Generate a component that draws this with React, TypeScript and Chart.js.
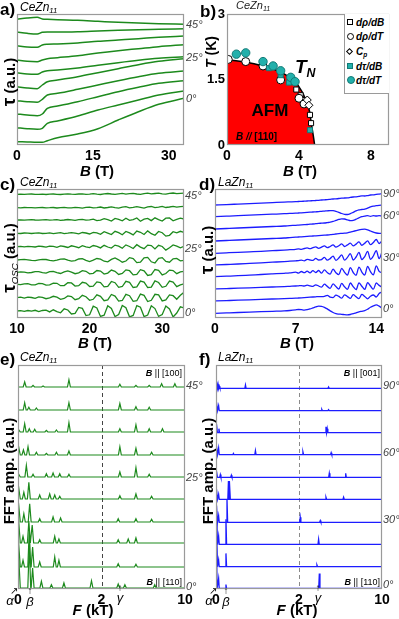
import React, { useEffect, useRef } from "react";
import { Chart, registerables } from "chart.js";

Chart.register(...registerables);

const FONT = "'Liberation Sans', Arial, Helvetica, sans-serif";
Chart.defaults.font.family = FONT;

const GREEN = "#1d8a1d";
const BLUE = "#1c1cff";
const RED = "#ff0000";
const TEAL = "#22b0ab";
const FRAME = "#9a9a9a";

// ---------- a) CeZn11 torque (a.u.) vs B (T) ----------
const fieldA = [0, 2, 4, 5, 6, 8, 12, 16, 20, 24, 28, 33];
const torqueCe45 = [125.7, 127, 127.7, 126, 125.7, 125.3, 124.7, 123.7, 122.7, 122, 121.3, 120.7];
const torqueCe40 = [113, 111.7, 111, 112.7, 113, 113, 113.3, 114, 114.7, 115.3, 115.7, 116.3];
const torqueCe35 = [99.3, 98, 97.7, 100, 100.7, 101, 102, 103.7, 105, 106.3, 107.7, 109];
const torqueCe30 = [85, 83.7, 83.3, 85, 86.3, 87.3, 89.3, 92, 94.3, 96.3, 98.3, 100.3];
const torqueCe25 = [72.3, 71, 70.7, 73, 74.3, 75, 77, 79.7, 82.3, 84.7, 86.7, 88.3];
const torqueCe20 = [58.3, 57, 56.3, 60, 63.3, 65, 68.3, 72.3, 76.3, 80.3, 83.7, 86.3];
const torqueCe15 = [44.3, 43.3, 42.7, 45.7, 50, 51.7, 55.7, 60, 64.3, 68.3, 71.7, 74];
const torqueCe10 = [31, 30, 29.3, 31, 36.7, 39, 43.3, 48.3, 53.3, 57.7, 61.7, 64.3];
const torqueCe5 = [17.3, 16.3, 15.7, 16.7, 21.7, 24, 29, 35, 40, 45, 50, 54];
const torqueCe0 = [3.3, 3, 2.7, 2.7, 4.3, 7.3, 11, 16.3, 25, 33.3, 40.7, 46.7];

// ---------- b) phase diagram ----------
const boundaryField = [0, 0.5, 1, 1.5, 2, 2.5, 3, 3.5, 3.9, 4.2, 4.45, 4.6, 4.7, 4.8, 4.87];
const boundaryTemp = [1.95, 1.93, 1.9, 1.86, 1.81, 1.75, 1.67, 1.55, 1.4, 1.2, 0.97, 0.75, 0.45, 0.2, 0];
const dRhoDB = [[3.85, 1.27], [4.09, 1.14], [4.3, 1.03], [4.61, 0.69], [4.67, 0.5]];
const dRhoDT = [[0.07, 1.96], [1.04, 1.91], [2.0, 1.81], [2.98, 1.49], [4.0, 1.07], [4.28, 0.94]];
const heatCp = [[4.46, 1.03], [4.55, 0.91]];
const dTauDB = [[2.33, 1.76], [2.98, 1.6], [3.44, 1.43], [4.61, 0.34]];
const dTauDT = [[0.52, 2.08], [1.04, 2.11], [2.0, 1.91], [2.56, 1.81], [2.98, 1.7], [3.54, 1.55], [3.78, 1.45]];

// ---------- c) CeZn11 oscillatory torque ----------
const oscField = [10, 10.5, 11, 11.5, 12, 12.5, 13, 13.5, 14, 14.5, 15, 15.5, 16, 16.5, 17, 17.5, 18, 18.5, 19, 19.5,
  20, 20.5, 21, 21.5, 22, 22.5, 23, 23.5, 24, 24.5, 25, 25.5, 26, 26.5, 27, 27.5, 28, 28.5, 29, 29.5,
  30, 30.5, 31, 31.5, 32, 32.5, 33];
const oscCe45 = [0, 0.2, -0.1, 0.1, 0.3, -0.1, 0, 0.2, -0.2, 0.1, 0.3, 0, -0.2, 0.2, 0.4, 0.1, -0.1, 0.3, 0.5, 0,
  0.2, 0.6, 0.1, -0.2, 0.4, 0.8, 0.3, 0, 0.5, 0.9, 0.2, 0.6, 1.0, 0.3, -0.1, 0.7, 1.1, 0.4, 0.8, 1.2,
  0.5, 0.2, 0.9, 1.3, 0.6, 1.0, 1.2];
const oscCe40 = [0, -0.1, 0.2, 0, 0.1, -0.2, 0.1, 0.2, -0.1, 0, 0.2, -0.3, 0.1, 0.3, -0.2, -0.1, 0.4, 0.1, -0.4, 0.3,
  0.5, -0.2, 0.1, 0.7, -0.3, 0.2, 0.9, 0.1, -0.5, 0.6, 1.0, -0.2, 0.3, 1.1, 0.4, -0.4, 0.8, 1.2, 0, 0.5,
  1.3, 0.2, 0.7, 1.4, 0.5, 1.0, 1.3];
const oscCe35 = [0, 0.2, -0.2, 0.1, 0.3, 0, -0.2, 0.2, 0.3, -0.1, 0.1, 0.4, -0.3, 0, 0.5, 0.2, -0.4, 0.3, 0.6, -0.2,
  0.1, 0.9, -0.6, -0.2, 1.4, 0.3, -1.0, 1.6, 0.6, -0.8, 1.8, -0.4, 0.4, 2.0, -1.2, 0.8, 1.6, -0.6, 2.2, 0.4,
  -1.0, 1.8, 2.0, -0.8, 0.6, 1.9, 1.0];
const oscCe30 = [0, -0.2, 0.3, 0.1, -0.2, 0.2, 0.4, -0.2, 0, 0.4, -0.3, 0.2, 0.6, -0.4, 0.1, 0.7, 0.2, -0.6, 0.8, 0.3,
  -0.7, 1.0, 0.4, -1.0, 1.6, 0.2, -1.2, 2.0, 0.6, -1.4, 1.8, 0.4, -1.6, 2.2, 1.0, -1.2, 2.4, -0.4, -2.0, 1.8,
  0.6, -2.8, -2.0, 1.6, 0.4, 2.0, 0.8];
const oscCe25 = [0, 0.3, -0.2, 0.4, 0.1, -0.3, 0.5, 0.2, -0.4, 0.5, 0.3, -0.6, 0.8, 0.2, -0.8, 0.9, 0.1, -1.0, 1.1, -0.2,
  -0.9, 1.2, 0.4, -1.2, 1.4, -0.3, -1.4, 1.6, 0.6, -1.6, 1.8, 0.2, -1.8, 2.0, -0.4, -2.0, 1.6, 1.2, -2.2, 1.4,
  0.2, -3.4, -1.0, 1.8, 0.6, -1.2, 0.4];
const oscCe20 = [0, 0.4, 0.6, 0.2, -0.4, -0.6, 0.1, 0.7, 0.5, -0.4, -0.9, -0.2, 0.9, 1.0, -0.2, -1.2, -0.6, 1.0, 1.3, -0.4,
  -1.5, -0.2, 1.5, 0.9, -1.2, -1.8, 0.6, 2.0, 0.2, -2.2, -1.0, 2.4, 1.4, -2.6, -2.2, 2.2, 2.6, -1.8, -3.0, 1.6,
  2.4, -1.4, -2.2, 1.2, 1.6, -0.8, -0.4];
const oscCe15 = [0, 0.5, 0.2, -0.5, -0.2, 0.6, 0.7, -0.4, -0.8, 0.6, 1.0, -0.3, -1.2, 0.4, 1.4, 0.2, -1.4, -0.6, 1.6, 1.0,
  -1.6, -1.0, 1.8, 1.2, -1.8, -0.8, 2.2, 1.0, -2.2, -1.2, 2.4, 1.6, -2.6, -2.0, 2.6, 1.4, -3.2, -2.4, 2.8, 2.0,
  -2.6, -1.2, 2.2, 1.8, -1.4, 0.4, 1.0];
const oscCe10 = [0, -0.4, 0.5, 0.6, -0.6, -0.5, 0.8, 0.7, -0.9, -0.6, 1.2, 1.0, -1.4, -1.2, 1.6, 1.4, -1.8, -1.4, 2.0, 1.2,
  -2.2, -1.8, 2.4, 1.8, -2.6, -2.0, 2.8, 1.6, -3.0, -2.2, 3.0, 2.0, -3.2, -2.6, 3.2, 2.2, -3.2, -2.8, 3.4, 1.8,
  -3.0, -2.0, 3.2, 2.2, -2.4, -0.6, 0.4];
const oscCe5 = [0, 0.5, -0.4, 0.6, 0.2, -0.7, 0.8, 0.4, -1.0, -0.2, 1.4, 0.6, -1.6, -0.8, 1.8, 1.2, -2.0, -1.0, 2.4, 1.0,
  -2.6, -1.6, 2.8, 1.4, -3.0, -2.2, 3.2, 1.6, -3.4, -2.8, 3.4, 2.0, -3.6, -3.0, 3.6, 2.4, -3.8, -2.6, 3.4, 2.8,
  -3.2, -2.2, 2.8, 2.0, -1.6, 2.4, 5.4];
const oscCe0 = [0, 0.4, -0.4, 0.5, -0.2, 0.7, -0.6, 0.5, 0.9, -0.9, 1.2, -0.6, -1.8, 2.2, 1.0, -3.0, -2.4, 3.6, 2.6, -4.6,
  -3.8, 4.8, 3.0, -5.4, -4.2, 5.2, 2.6, -5.6, -3.6, 5.6, 3.2, -5.8, -4.4, 5.4, 3.8, -5.6, -4.0, 5.2, 2.4, -5.4,
  -3.6, 5.0, 2.0, -6.0, -2.0, 4.2, 3.0];
const oscStackC = [123.7, 110.3, 98, 84.7, 71.3, 58, 45.7, 33.7, 20.3, 7];

// ---------- d) LaZn11 torque ----------
const fieldD = [0, 1, 2, 3, 4, 5, 6, 6.5, 7, 7.25, 7.5, 7.75, 8, 8.25, 8.5, 8.75, 9, 9.25, 9.5, 9.75, 10, 10.25, 10.5,
  10.75, 11, 11.25, 11.5, 11.75, 12, 12.25, 12.5, 12.75, 13, 13.25, 13.5, 13.75, 14, 14.25, 14.5];
const torqueLa90 = [0, 0.4, 0.9, 1.4, 1.9, 2.4, 2.9, 3.1, 3.3, 3.5, 3.6, 3.8, 4.0, 4.2, 4.3, 4.5, 4.7, 5.0,
  5.2, 5.4, 5.7, 6.0, 6.2, 6.5, 6.9, 7.0, 7.2, 7.6, 8.0, 8.2, 8.6, 9.2, 9.0, 9.4, 10.0, 10.2, 10.6, 10.9, 11.2];
const torqueLa80 = [0, 0.5, 1.0, 1.5, 2.0, 2.5, 3.0, 3.3, 3.5, 3.7, 3.9, 4.1, 4.3, 4.5, 4.7, 4.9, 5.1, 5.4,
  5.6, 5.9, 6.1, 6.0, 5.4, 4.4, 3.2, 2.4, 2.2, 3.0, 4.4, 5.8, 6.8, 7.2, 7.6, 8.6, 9.8, 10.6, 11.0, 11.4, 11.7];
const torqueLa70 = [0, 0.5, 1.0, 1.5, 2.0, 2.5, 3.0, 3.4, 3.7, 3.9, 4.1, 4.3, 4.5, 4.8, 5.0, 5.3, 5.6, 5.8,
  6.0, 6.4, 6.8, 7.6, 8.6, 9.6, 10.2, 10.0, 9.2, 8.4, 8.6, 9.8, 11.2, 12.4, 12.8, 13.4, 12.6, 13.4, 13.0, 13.4, 13.0];
const torqueLa60 = [0, 0.5, 1.0, 1.5, 2.0, 2.5, 3.0, 3.4, 3.8, 4.0, 4.2, 4.4, 4.6, 4.8, 5.0, 5.2, 5.4, 5.6,
  5.8, 6.0, 6.3, 6.6, 7.0, 7.4, 7.6, 7.8, 8.2, 8.8, 9.6, 10.4, 11.2, 11.6, 11.8, 11.2, 10.0, 8.8, 8.0, 7.6, 7.8];
const torqueLa50 = [0, 0.5, 1.0, 1.5, 2.0, 2.6, 3.2, 3.6, 4.0, 4.4, 4.0, 4.8, 5.4, 4.6, 5.6, 6.4, 5.0, 6.2,
  7.4, 5.6, 6.8, 8.4, 6.2, 7.6, 9.4, 6.8, 8.4, 10.2, 7.4, 9.2, 11.4, 8.0, 10.0, 12.4, 8.6, 10.8, 13.8, 9.8, 12.6];
const torqueLa40 = [0, 0.5, 1.0, 1.6, 2.2, 2.8, 3.4, 3.8, 4.2, 4.4, 4.8, 4.2, 5.6, 5.0, 4.6, 6.6, 5.0, 5.4,
  7.6, 4.8, 6.4, 8.8, 4.6, 7.0, 10.2, 4.8, 7.6, 11.4, 5.0, 8.0, 12.6, 5.4, 8.4, 13.6, 5.6, 9.0, 14.4, 6.4, 13.0];
const torqueLa30 = [0, 0.5, 1.0, 1.6, 2.2, 2.8, 3.4, 3.8, 4.6, 3.6, 5.2, 4.0, 5.6, 3.8, 6.0, 4.2, 6.2, 3.6,
  6.8, 4.2, 2.6, 7.6, 4.0, 2.0, 8.4, 4.4, 1.6, 9.0, 4.2, 1.4, 9.6, 4.6, 1.6, 10.4, 5.0, 1.8, 10.8, 5.4, 4.0];
const torqueLa20 = [0, 0.4, 0.8, 1.2, 1.6, 2.0, 2.4, 2.7, 3.0, 3.2, 3.4, 3.0, 3.8, 3.2, 2.6, 4.2, 3.0, 1.8,
  4.8, 2.6, 0.6, 5.2, 2.4, 0.0, 5.6, 2.2, -0.4, 6.0, 2.4, -0.6, 6.2, 2.8, -0.4, 6.4, 3.0, -0.2, 6.0, 3.6, 1.8];
const torqueLa10 = [0, 0.4, 0.8, 1.2, 1.6, 2.0, 2.4, 2.6, 2.8, 3.0, 3.2, 3.4, 3.6, 3.8, 4.0, 4.2, 4.4, 4.4,
  4.6, 5.6, 3.8, 3.4, 5.8, 4.6, 2.8, 6.2, 4.4, 2.6, 6.4, 4.2, 2.4, 6.6, 4.6, 2.2, 4.8, 6.0, 4.0, 7.4, 9.0];
const torqueLa0 = [0, 0.4, 0.8, 1.2, 1.6, 2.0, 2.4, 2.8, 3.4, 3.8, 3.6, 3.2, 3.6, 4.4, 5.4, 6.4, 7.2, 7.0,
  6.0, 4.4, 2.4, 0.8, -0.4, -0.8, -1.0, -1.4, -1.6, -1.2, -0.4, 0.4, 1.4, 2.0, 2.6, 4.0, 6.0, 7.4, 8.4, 7.2, 5.0];
const torqueStackD = [113, 101.3, 89, 77, 64.7, 53, 41.3, 29, 17, 4.7];

// ---------- e) CeZn11 FFT: [F (kT), amplitude] ----------
const fftCe45 = [[0.16, 5], [0.36, 1.7], [0.6, 1], [1.22, 7.3], [3.76, 2.7], [5.3, 1.7], [6.57, 1.7], [7.76, 3.3], [9.03, 3.3]];
const fftCe40 = [[0.16, 7.3], [0.26, 2.7], [0.44, 2], [1.22, 7.3], [3.76, 6.5], [5.3, 3.3], [6.57, 2.7]];
const fftCe35 = [[0.02, 2.7], [0.16, 8.3], [0.27, 3.3], [0.4, 2.7], [0.68, 1.7], [0.92, 2], [1.22, 9.3], [3.76, 3.3], [5.3, 7.3], [6.57, 3.3], [7.84, 3.3]];
const fftCe30 = [[0.02, 9.3], [0.13, 5], [0.24, 8.3], [0.44, 2.7], [0.68, 1.7], [0.92, 2.7], [1.22, 4], [3.76, 8.3], [5.3, 6.7], [6.8, 2.7]];
const fftCe25 = [[0.02, 3.3], [0.2, 11.7], [0.36, 2.7], [0.68, 3.3], [0.84, 4], [1.0, 3.3], [1.22, 2.7], [3.76, 5], [5.3, 9.3], [6.57, 2.7]];
const fftCe20 = [[0.02, 13.3], [0.14, 6.7], [0.26, 16.7], [0.52, 4], [0.76, 5], [0.88, 4], [1.0, 2.7], [3.76, 3.3], [5.3, 5], [6.8, 2.7]];
const fftCe15 = [[0.02, 20], [0.14, 8.3], [0.28, 18.3], [0.52, 3.3], [0.84, 5], [1.02, 4], [3.6, 3.3], [5.3, 3.3], [6.8, 2.7]];
const fftCe10 = [[0.02, 25], [0.12, 6.7], [0.26, 22], [0.34, 18], [0.52, 3.3], [0.88, 6.7], [0.98, 4], [3.6, 3.3], [4.56, 4], [5.3, 5]];
const fftCe5 = [[0.02, 26.7], [0.12, 6.7], [0.27, 36.7], [0.35, 20], [0.52, 5], [0.88, 10], [0.98, 6.7], [3.6, 3.3], [5.3, 2.7]];
const fftCe0 = [[0.02, 36.7], [0.27, 43.3], [0.35, 20], [0.56, 6.7], [0.8, 3.3], [1.1, 5], [1.76, 7.3], [3.6, 4], [4.24, 3.3], [7.1, 3.3]];
const fftStackE = [202, 179, 157, 134, 112, 90, 67, 46, 22, 1];

// ---------- f) LaZn11 FFT: [F (kT), amplitude] ----------
const fftLa90 = [[0.02, 6.7], [0.05, 4], [0.08, 2], [0.71, 3.3], [4.85, 1.3]];
const fftLa80 = [[0.02, 8.3], [0.063, 5], [4.2, 1.3], [4.85, 1]];
const fftLa70 = [[0.02, 8.3], [0.07, 4], [4.6, 6], [4.72, 4]];
const fftLa60 = [[0.02, 8.3], [0.063, 6.7], [0.42, 1.3], [0.95, 4], [2.38, 2.7], [5.1, 2]];
const fftLa50 = [[0.02, 6], [0.104, 2.7], [0.37, 2], [4.92, 4], [6.5, 4]];
const fftLa40 = [[0.02, 10], [0.063, 5], [0.3, 18.3], [0.33, 18.3], [4.6, 2], [6.3, 2]];
const fftLa30 = [[0.02, 16.7], [0.063, 6.7], [0.265, 23.3], [2.12, 5], [4.05, 1.7]];
const fftLa20 = [[0.02, 33.3], [0.063, 8.3], [0.24, 25], [3.89, 5]];
const fftLa10 = [[0.02, 40], [0.063, 6.7], [0.24, 13.3], [3.73, 1.7]];
const fftLa0 = [[0.012, 60], [0.063, 10], [0.24, 4], [3.96, 15]];
const fftStackF = [200.7, 178.3, 156.3, 134.3, 111.7, 89.7, 66.7, 44.7, 22.3, 0.5];

// broken frequency axis: 0-2 kT linear, 2-10 kT compressed x4
const kTtoAxis = (F: number) => (F <= 2 ? F : 2 + (F - 2) / 4);

function spectrum(peaks: number[][], offset: number, w: number) {
  const pts: { x: number; y: number }[] = [{ x: 0, y: offset }];
  for (const [F, A] of peaks) {
    const u = kTtoAxis(F);
    pts.push({ x: Math.max(0, u - w), y: offset }, { x: u, y: offset + A }, { x: u + w, y: offset });
  }
  pts.push({ x: 4, y: offset });
  return pts;
}

const framePlugin = {
  id: "frame",
  afterDraw(chart: any) {
    const { ctx, chartArea: a } = chart;
    ctx.save();
    ctx.strokeStyle = FRAME;
    ctx.lineWidth = 1.2;
    ctx.strokeRect(a.left + 0.5, a.top + 0.5, a.right - a.left - 1, a.bottom - a.top - 1);
    ctx.restore();
  },
};

const dashPlugin = (color: string) => ({
  id: "dash",
  beforeDatasetsDraw(chart: any) {
    const { ctx, chartArea: a } = chart;
    const x = Math.round(chart.scales.x.getPixelForValue(2)) + 0.5;
    ctx.save();
    ctx.strokeStyle = color;
    ctx.lineWidth = 1;
    ctx.setLineDash([4, 3]);
    ctx.beginPath();
    ctx.moveTo(x, a.top);
    ctx.lineTo(x, a.bottom);
    ctx.stroke();
    ctx.restore();
  },
});

type Area = { l: number; t: number; r: number; b: number };
type Spec = {
  w: number; h: number; area: Area;
  xMin: number; xMax: number; xTicks: number[]; xFmt?: (v: number) => string;
  yMin: number; yMax: number; yTicks?: number[];
};

function makeOptions(p: Spec): any {
  const showY = !!p.yTicks;
  return {
    animation: false,
    responsive: false,
    events: [],
    layout: { padding: { left: showY ? 0 : p.area.l, top: p.area.t, right: p.w - p.area.r, bottom: 0 } },
    plugins: { legend: { display: false }, tooltip: { enabled: false } },
    scales: {
      x: {
        type: "linear",
        min: p.xMin,
        max: p.xMax,
        afterFit: (s: any) => { s.height = p.h - p.area.b; },
        afterBuildTicks: (s: any) => { s.ticks = p.xTicks.map((v) => ({ value: v })); },
        grid: { display: false, drawTicks: false },
        border: { display: false },
        ticks: {
          autoSkip: false, maxRotation: 0, padding: 3, color: "#000",
          font: { size: 14, weight: "bold" },
          callback: (v: any) => (p.xFmt ? p.xFmt(Number(v)) : String(v)),
        },
      },
      y: showY
        ? {
            type: "linear",
            min: p.yMin,
            max: p.yMax,
            afterFit: (s: any) => { s.width = p.area.l; },
            afterBuildTicks: (s: any) => { s.ticks = (p.yTicks as number[]).map((v) => ({ value: v })); },
            grid: { display: false, drawTicks: false },
            border: { display: false },
            ticks: { autoSkip: false, padding: 2, color: "#000", font: { size: 13, weight: "bold" }, callback: (v: any) => String(v) },
          }
        : { type: "linear", display: false, min: p.yMin, max: p.yMax },
    },
  };
}

function lineSet(data: { x: number; y: number }[], color: string, width: number, smooth: boolean) {
  return {
    data, borderColor: color, borderWidth: width, pointRadius: 0, fill: false,
    tension: 0, cubicInterpolationMode: smooth ? "monotone" : "default",
  };
}

function ChartCanvas({ x, y, w, h, make }: { x: number; y: number; w: number; h: number; make: () => any }) {
  const ref = useRef<HTMLCanvasElement>(null);
  useEffect(() => {
    const chart = new Chart(ref.current as HTMLCanvasElement, make());
    return () => chart.destroy();
  }, []);
  return <canvas ref={ref} width={w} height={h} style={{ position: "absolute", left: x, top: y, width: w, height: h }} />;
}

// ---------- chart builders ----------
const AREA_A = { l: 17, t: 14, r: 184, b: 145 };
function makeA() {
  const curves = [torqueCe45, torqueCe40, torqueCe35, torqueCe30, torqueCe25, torqueCe20, torqueCe15, torqueCe10, torqueCe5, torqueCe0];
  return {
    type: "line",
    data: { datasets: curves.map((c) => lineSet(c.map((v, i) => ({ x: fieldA[i], y: v })), GREEN, 1.5, true)) },
    options: makeOptions({ w: 199, h: 180, area: AREA_A, xMin: 0, xMax: 33, xTicks: [0, 15, 30], yMin: 0, yMax: 131 }),
    plugins: [framePlugin],
  };
}

const AREA_B = { l: 28, t: 14, r: 190, b: 145 };
function makeB() {
  const pts = (arr: number[][]) => arr.map(([x, y]) => ({ x, y }));
  const marker = (data: number[][], style: string, r: number, bg: string, border: string) => ({
    type: "scatter", data: pts(data), pointStyle: style, pointRadius: r, backgroundColor: bg,
    borderColor: border, borderWidth: 1, showLine: false, order: 1,
  });
  return {
    type: "scatter",
    data: {
      datasets: [
        marker(dTauDT, "circle", 4.2, TEAL, "#137a76"),
        marker(dTauDB, "rect", 3.6, TEAL, "#137a76"),
        marker(heatCp, "rectRot", 4, "#fff", "#000"),
        marker(dRhoDT, "circle", 4, "#fff", "#000"),
        marker(dRhoDB, "rect", 3.6, "#fff", "#000"),
        {
          type: "line",
          data: boundaryField.map((b, i) => ({ x: b, y: boundaryTemp[i] })),
          borderColor: "#000", borderWidth: 1.5, backgroundColor: RED, fill: "origin",
          pointRadius: 0, tension: 0, order: 10,
        },
      ],
    },
    options: makeOptions({ w: 200, h: 180, area: AREA_B, xMin: 0, xMax: 9, xTicks: [0, 4, 8], yMin: 0, yMax: 3, yTicks: [0, 1.5, 3] }),
    plugins: [framePlugin],
  };
}

const AREA_C = { l: 17, t: 9, r: 184, b: 138 };
function makeC() {
  const curves = [oscCe45, oscCe40, oscCe35, oscCe30, oscCe25, oscCe20, oscCe15, oscCe10, oscCe5, oscCe0];
  return {
    type: "line",
    data: { datasets: curves.map((c, k) => lineSet(c.map((v, i) => ({ x: oscField[i], y: oscStackC[k] + v })), GREEN, 1.3, false)) },
    options: makeOptions({ w: 199, h: 175, area: AREA_C, xMin: 10, xMax: 33, xTicks: [10, 20, 30], yMin: 0, yMax: 129 }),
    plugins: [framePlugin],
  };
}

const AREA_D = { l: 16, t: 9, r: 183, b: 138 };
function makeD() {
  const curves = [torqueLa90, torqueLa80, torqueLa70, torqueLa60, torqueLa50, torqueLa40, torqueLa30, torqueLa20, torqueLa10, torqueLa0];
  return {
    type: "line",
    data: { datasets: curves.map((c, k) => lineSet(c.map((v, i) => ({ x: fieldD[i], y: torqueStackD[k] + v })), BLUE, 1.3, true)) },
    options: makeOptions({ w: 200, h: 175, area: AREA_D, xMin: 0, xMax: 14.5, xTicks: [0, 7, 14], yMin: 0, yMax: 129 }),
    plugins: [framePlugin],
  };
}

const fmtKT = (v: number) => (v === 4 ? "10" : String(v));

const AREA_E = { l: 18, t: 10, r: 185, b: 234 };
function makeE() {
  const curves = [fftCe45, fftCe40, fftCe35, fftCe30, fftCe25, fftCe20, fftCe15, fftCe10, fftCe5, fftCe0];
  return {
    type: "line",
    data: { datasets: curves.map((c, k) => lineSet(spectrum(c, fftStackE[k], 0.035), GREEN, 1.2, false)) },
    options: makeOptions({ w: 199, h: 264, area: AREA_E, xMin: 0, xMax: 4, xTicks: [0, 2, 4], xFmt: fmtKT, yMin: 0, yMax: 224 }),
    plugins: [framePlugin, dashPlugin("#444")],
  };
}

const AREA_F = { l: 17, t: 10, r: 183, b: 234 };
function makeF() {
  const curves = [fftLa90, fftLa80, fftLa70, fftLa60, fftLa50, fftLa40, fftLa30, fftLa20, fftLa10, fftLa0];
  return {
    type: "line",
    data: { datasets: curves.map((c, k) => lineSet(spectrum(c, fftStackF[k], 0.015), BLUE, 1.3, false)) },
    options: makeOptions({ w: 200, h: 264, area: AREA_F, xMin: 0, xMax: 4, xTicks: [0, 2, 4], xFmt: fmtKT, yMin: 0, yMax: 224 }),
    plugins: [framePlugin, dashPlugin("#8a8a8a")],
  };
}

// ---------- text helpers ----------
type TxProps = { x: number; y: number; a?: string; s?: number; b?: boolean; i?: boolean; c?: string; children: React.ReactNode };
function Tx({ x, y, a = "l", s = 12, b = false, i = false, c = "#000", children }: TxProps) {
  const tr =
    a === "l" ? "translate(0,-50%)" :
    a === "c" ? "translate(-50%,-50%)" :
    a === "r" ? "translate(-100%,-50%)" :
    "translate(-50%,-50%) rotate(-90deg)";
  return (
    <div style={{ position: "absolute", left: x, top: y, transform: tr, fontSize: s, fontWeight: b ? "bold" : "normal",
      fontStyle: i ? "italic" : "normal", color: c, whiteSpace: "nowrap", lineHeight: 1 }}>
      {children}
    </div>
  );
}
const Sub = ({ children, n = false }: { children: React.ReactNode; n?: boolean }) => (
  <span style={{ fontSize: "0.65em", position: "relative", top: "0.3em", fontWeight: n ? "normal" : undefined }}>{children}</span>
);
const Ang = ({ x, y, t }: { x: number; y: number; t: string }) => (
  <Tx x={x} y={y} s={11} i c="#444">{t}</Tx>
);

function LegendB() {
  const rows: { key: string; mark: React.CSSProperties; label: React.ReactNode }[] = [
    { key: "a", mark: { width: 6, height: 6, border: "1px solid #000", background: "#fff" }, label: "dρ/dB" },
    { key: "b", mark: { width: 7, height: 7, border: "1px solid #000", borderRadius: "50%", background: "#fff" }, label: "dρ/dT" },
    { key: "c", mark: { width: 5, height: 5, border: "1px solid #000", background: "#fff", transform: "rotate(45deg)" }, label: <span>C<Sub>p</Sub></span> },
    { key: "d", mark: { width: 6, height: 6, border: "1px solid #137a76", background: TEAL }, label: "dτ/dB" },
    { key: "e", mark: { width: 8, height: 8, border: "1px solid #137a76", borderRadius: "50%", background: TEAL }, label: "dτ/dT" },
  ];
  const ys = [9, 23, 38, 53, 67];
  return (
    <div style={{ position: "absolute", left: 344, top: 14, width: 45, height: 80, background: "#fff",
      borderLeft: `1px solid ${FRAME}`, borderBottom: `1px solid ${FRAME}`, boxSizing: "border-box" }}>
      {rows.map((r, k) => (
        <div key={r.key}>
          <div style={{ position: "absolute", left: 2, top: ys[k] - (Number(r.mark.height) + 2) / 2, ...r.mark, boxSizing: "border-box" }} />
          <div style={{ position: "absolute", left: 11, top: ys[k], transform: "translate(0,-50%)", fontSize: 10,
            fontWeight: "bold", fontStyle: "italic", whiteSpace: "nowrap", lineHeight: 1 }}>{r.label}</div>
        </div>
      ))}
    </div>
  );
}

const BB = ({ t }: { t: string }) => (
  <span><b><i>B</i></b> {t}</span>
);

export default function App() {
  return (
    <div style={{ position: "absolute", left: 0, top: 0, width: 399, height: 619, background: "#fff", fontFamily: FONT, overflow: "hidden" }}>
      <ChartCanvas x={0} y={0} w={199} h={180} make={makeA} />
      <ChartCanvas x={199} y={0} w={200} h={180} make={makeB} />
      <ChartCanvas x={0} y={180} w={199} h={175} make={makeC} />
      <ChartCanvas x={199} y={180} w={200} h={175} make={makeD} />
      <ChartCanvas x={0} y={355} w={199} h={264} make={makeE} />
      <ChartCanvas x={199} y={355} w={200} h={264} make={makeF} />

      {/* panel labels */}
      <Tx x={0} y={9} s={17} b>a)</Tx>
      <Tx x={20} y={7} s={12} i>CeZn<Sub>11</Sub></Tx>
      <Tx x={200} y={11} s={17} b>b)</Tx>
      <Tx x={236} y={6} s={11} i c="#222">CeZn<Sub>11</Sub></Tx>
      <Tx x={0} y={184} s={17} b>c)</Tx>
      <Tx x={20} y={182} s={12} i>CeZn<Sub>11</Sub></Tx>
      <Tx x={199} y={184} s={17} b>d)</Tx>
      <Tx x={218} y={182} s={12} i>LaZn<Sub>11</Sub></Tx>
      <Tx x={0} y={359} s={17} b>e)</Tx>
      <Tx x={20} y={357} s={12} i>CeZn<Sub>11</Sub></Tx>
      <Tx x={199} y={359} s={17} b>f)</Tx>
      <Tx x={218} y={357} s={12} i>LaZn<Sub>11</Sub></Tx>

      {/* axis titles */}
      <Tx x={97} y={170} a="c" s={15} b><i>B</i> (T)</Tx>
      <Tx x={300} y={170} a="c" s={15} b><i>B</i> (T)</Tx>
      <Tx x={95} y={342} a="c" s={15} b><i>B</i> (T)</Tx>
      <Tx x={297} y={342} a="c" s={15} b><i>B</i> (T)</Tx>
      <Tx x={93} y={609} a="c" s={15} b><i>F</i> (kT)</Tx>
      <Tx x={297} y={609} a="c" s={15} b><i>F</i> (kT)</Tx>

      <Tx x={8} y={82} a="v" s={15} b><span style={{ fontSize: 19 }}>τ</span> (a.u.)</Tx>
      <Tx x={211} y={52} a="v" s={14} b><i>T</i> (K)</Tx>
      <Tx x={8} y={258} a="v" s={15} b><span style={{ fontSize: 19 }}>τ</span><Sub n><i>OSC</i></Sub> (a.u.)</Tx>
      <Tx x={206} y={250} a="v" s={15} b><span style={{ fontSize: 19 }}>τ</span> (a.u.)</Tx>
      <Tx x={8} y={471} a="v" s={15} b>FFT amp. (a.u.)</Tx>
      <Tx x={207} y={471} a="v" s={15} b>FFT amp. (a.u.)</Tx>

      {/* angle labels */}
      <Ang x={186} y={24} t="45°" />
      <Ang x={186} y={57} t="25°" />
      <Ang x={186} y={98} t="0°" />
      <Ang x={185} y={195} t="45°" />
      <Ang x={185} y={248} t="25°" />
      <Ang x={185} y={312} t="0°" />
      <Ang x={383} y={193} t="90°" />
      <Ang x={383} y={215} t="60°" />
      <Ang x={383} y={257} t="30°" />
      <Ang x={383} y={308} t="0°" />
      <Ang x={186} y={385} t="45°" />
      <Ang x={186} y={477} t="25°" />
      <Ang x={186} y={586} t="0°" />
      <Ang x={383} y={385} t="90°" />
      <Ang x={383} y={452} t="60°" />
      <Ang x={383} y={519} t="30°" />
      <Ang x={383} y={584} t="0°" />

      {/* panel b annotations */}
      <LegendB />
      <Tx x={295} y={66} s={19} b i>T<Sub>N</Sub></Tx>
      <Tx x={270} y={110} a="c" s={17} b>AFM</Tx>
      <Tx x={236} y={137} s={10} b><i>B //</i> [110]</Tx>

      {/* field direction labels */}
      <Tx x={182} y={373} a="r" s={9}><BB t="|| [100]" /></Tx>
      <Tx x={182} y={582} a="r" s={9}><BB t="|| [110]" /></Tx>
      <Tx x={380} y={373} a="r" s={9}><BB t="|| [001]" /></Tx>
      <Tx x={380} y={582} a="r" s={9}><BB t="|| [110]" /></Tx>

      {/* frequency branch markers */}
      <Tx x={10} y={600} a="c" s={13} i>α</Tx>
      <Tx x={14} y={591} a="c" s={10}>↗</Tx>
      <Tx x={30} y={601} a="c" s={13} i>β</Tx>
      <Tx x={30} y={591} a="c" s={10}>↑</Tx>
      <Tx x={120} y={597} a="c" s={13} i>γ</Tx>
      <Tx x={120} y={588} a="c" s={10}>↑</Tx>
      <Tx x={209} y={600} a="c" s={13} i>α</Tx>
      <Tx x={213} y={591} a="c" s={10}>↗</Tx>
      <Tx x={226} y={601} a="c" s={13} i>β</Tx>
      <Tx x={226} y={591} a="c" s={10}>↑</Tx>
      <Tx x={318} y={597} a="c" s={13} i>γ</Tx>
      <Tx x={318} y={588} a="c" s={10}>↑</Tx>
    </div>
  );
}
